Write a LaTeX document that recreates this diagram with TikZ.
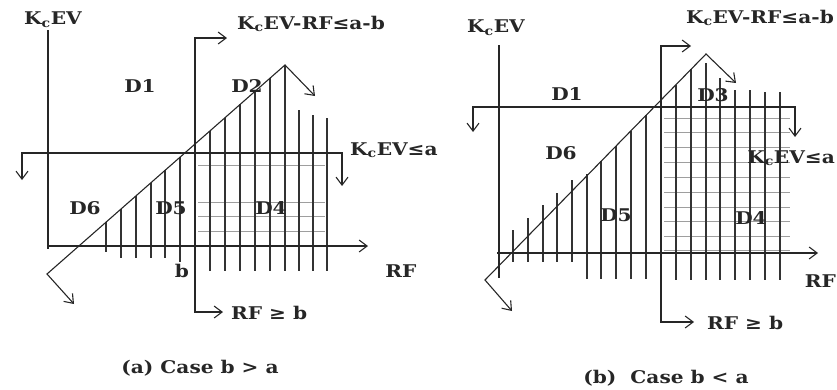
\documentclass[tikz,border=0pt]{standalone}
\usepackage{fontspec}
\setmainfont{DejaVu Serif}[FakeStretch=1.15]
\usetikzlibrary{arrows.meta}
\begin{document}
\begin{tikzpicture}[x=1pt,y=-1pt,
  lbl/.style={font=\fontsize{17.5}{20}\selectfont\bfseries, inner sep=0pt, text=black!85},
  ln/.style={line width=1.1pt, draw=black!85},
  hatch/.style={line width=1.2pt, draw=black!80},
  gridln/.style={line width=0.8pt, draw=black!38},
  arr/.style={ln, {Straight Barb[length=8pt,width=12pt]}-{Straight Barb[length=8pt,width=12pt]}},
  sarr/.style={ln, -{Straight Barb[length=8pt,width=12pt]}}]
\path[use as bounding box] (0,0) rectangle (837,389);

% ================= panel (a) =================
\foreach \yy in {165,202,216,231} \draw[gridln] (198,\yy) -- (325,\yy);
\foreach \xx/\tp/\bt in {106/222/252,121/209/258,136/196/258,151/183/258,165/170/258,180/157/262,
  210/131/271,225/118/271,240/104/271,255/91/271,270/78/271,285/65/271,299/110/271,313/115/271,327/118/271}
  \draw[hatch] (\xx,\tp) -- (\xx,\bt);
\coordinate (aYt) at (48,30);
\coordinate (aXe) at (368,246);
\draw[ln] (aYt) -- (48,249);
\draw[sarr] (47,246) -- (aXe);
\coordinate (aH1) at (22,180);
\coordinate (aH2) at (22,153);
\coordinate (aH3) at (342,153);
\coordinate (aH4) at (342,186);
\draw[arr] (aH1) -- (aH2) -- (aH3) -- (aH4);
\coordinate (aV1) at (227,38);
\coordinate (aV2) at (195,38);
\coordinate (aV3) at (195,312);
\coordinate (aV4) at (223,312);
\draw[arr] (aV1) -- (aV2) -- (aV3) -- (aV4);
\coordinate (aD1) at (74,304);
\coordinate (aD2) at (47,274);
\coordinate (aD3) at (285,65);
\coordinate (aD4) at (315,96);
\draw[arr] (aD1) -- (aD2) -- (aD3) -- (aD4);
\node[lbl] (aK) at (53,20) {K\textsubscript{c}EV};
\node[lbl] (aKR) at (311,24) {K\textsubscript{c}EV-RF≤a-b};
\node[lbl, anchor=west] (aKa) at (350,150) {K\textsubscript{c}EV≤a};
\node[lbl] (aD1l) at (140,86) {D1};
\node[lbl] (aD2l) at (247,86) {D2};
\node[lbl] (aD6l) at (85,208) {D6};
\node[lbl] (aD5l) at (171,208) {D5};
\node[lbl] (aD4l) at (271,208) {D4};
\node[lbl] (ab) at (182,271) {b};
\node[lbl] (aRF) at (401,271) {RF};
\node[lbl, anchor=west] (aRFb) at (231,313) {RF ≥ b};
\node[lbl] (acap) at (200,368) {(a) Case b > a};

% ================= panel (b) =================
\foreach \yy in {118,132,147,162,177,192,207,221,236,250} \draw[gridln] (664,\yy) -- (790,\yy);
\foreach \xx/\tp/\bt in {513/230/262,528/218/262,543/205/262,557/193/262,572/180/262,
  587/174/279,601/161/279,616/146/279,631/131/279,646/115/279,
  676/85/280,691/69/280,706/63/280,720/78/280,735/90/280,750/90/280,765/92/280,780/92/280}
  \draw[hatch] (\xx,\tp) -- (\xx,\bt);
\coordinate (bYt) at (499,45);
\coordinate (bXe) at (818,253);
\draw[ln] (bYt) -- (499,278);
\draw[sarr] (497,253) -- (bXe);
\coordinate (bH1) at (473,132);
\coordinate (bH2) at (473,107);
\coordinate (bH3) at (795,107);
\coordinate (bH4) at (795,137);
\draw[arr] (bH1) -- (bH2) -- (bH3) -- (bH4);
\coordinate (bV1) at (691,46);
\coordinate (bV2) at (661,46);
\coordinate (bV3) at (661,322);
\coordinate (bV4) at (694,322);
\draw[arr] (bV1) -- (bV2) -- (bV3) -- (bV4);
\coordinate (bD1) at (512,311);
\coordinate (bD2) at (485,280);
\coordinate (bD3) at (706,54);
\coordinate (bD4) at (736,83);
\draw[arr] (bD1) -- (bD2) -- (bD3) -- (bD4);
\node[lbl] (bK) at (496,28) {K\textsubscript{c}EV};
\node[lbl, anchor=east] (bKR) at (834,18) {K\textsubscript{c}EV-RF≤a-b};
\node[lbl, anchor=east] (bKa) at (835,158) {K\textsubscript{c}EV≤a};
\node[lbl] (bD1l) at (567,94) {D1};
\node[lbl] (bD3l) at (713,95) {D3};
\node[lbl] (bD6l) at (561,153) {D6};
\node[lbl] (bD5l) at (616,215) {D5};
\node[lbl] (bD4l) at (751,218) {D4};
\node[lbl, anchor=east] (bRF) at (836,281) {RF};
\node[lbl, anchor=west] (bRFb) at (707,323) {RF ≥ b};
\node[lbl] (bcap) at (666,378) {(b)\ \ Case b < a};
\end{tikzpicture}
\end{document}
